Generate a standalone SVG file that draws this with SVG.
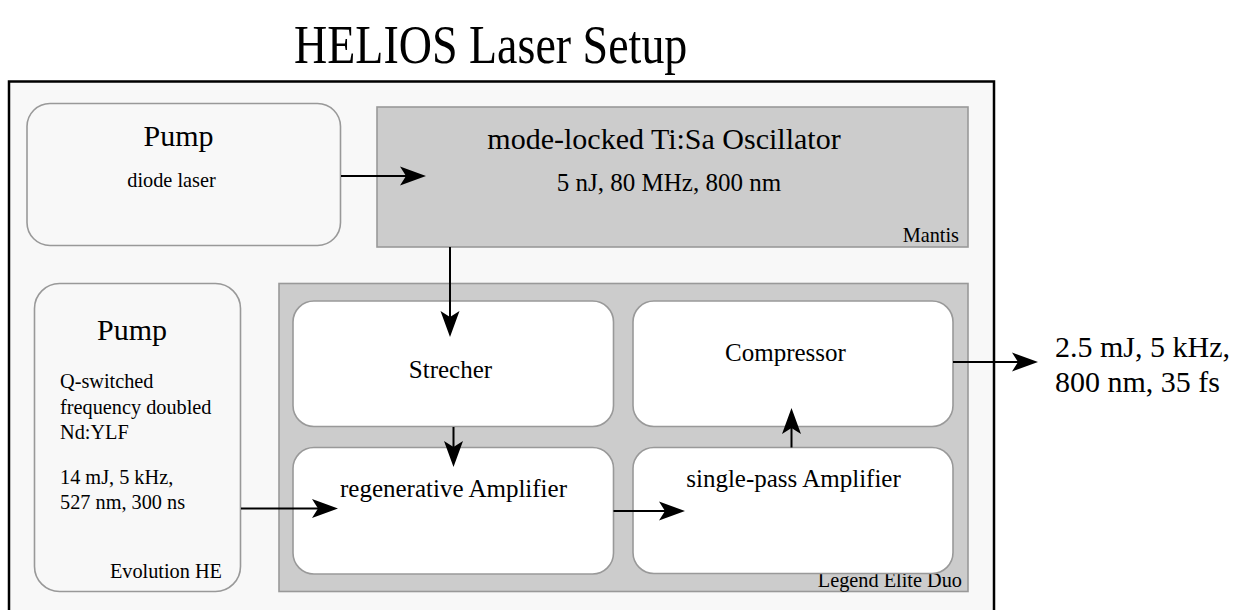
<svg xmlns="http://www.w3.org/2000/svg" width="1238" height="610" viewBox="0 0 1238 610">
  <style>
    .t { font-family: "Liberation Serif", "Times New Roman", serif; fill: #000; }
    .h46 { font-family: "Liberation Serif", "Times New Roman", serif; font-size: 46px; }
    .h30 { font-family: "Liberation Serif", "Times New Roman", serif; font-size: 30px; }
    .h25 { font-family: "Liberation Serif", "Times New Roman", serif; font-size: 25px; }
    .s20 { font-family: "Liberation Serif", "Times New Roman", serif; font-size: 20.3px; }
    .mid { text-anchor: middle; }
    .end { text-anchor: end; }
    .grey { fill: #cccccc; stroke: #999999; stroke-width: 1.6; }
    .pale { fill: #f8f8f8; stroke: #999999; stroke-width: 1.6; }
    .white { fill: #ffffff; stroke: #999999; stroke-width: 1.6; }
    .conn { stroke: #000; stroke-width: 2; fill: none; marker-end: url(#arrow); }
  </style>
  <defs>
    <marker id="arrow" markerUnits="userSpaceOnUse" markerWidth="30" markerHeight="24" refX="22" refY="10" orient="auto" overflow="visible">
      <path d="M0,0.5 L26,10 L0,19.5 L6,10 Z" fill="#000"/>
    </marker>
  </defs>

  <rect width="1238" height="610" fill="#ffffff"/>

  <g font-family="'Liberation Serif', 'Times New Roman', serif">
  <!-- heading, drawn slightly tall -->
  <text id="title" class="t h46" transform="translate(294,63) scale(1,1.18)" x="0" y="0">HELIOS Laser Setup</text>

  <!-- frame around the whole setup -->
  <rect id="frame" x="9" y="81.5" width="985" height="540" fill="#f8f8f8" stroke="#000" stroke-width="2.5"/>

  <g id="pump-diode">
    <rect class="pale" x="27" y="103.5" width="313.5" height="142" rx="23"/>
    <text class="t h30 mid" x="178.5" y="146">Pump</text>
    <text class="t s20 mid" x="171.5" y="187">diode laser</text>
  </g>

  <g id="oscillator">
    <rect class="grey" x="377" y="107" width="591" height="140"/>
    <text class="t h30 mid" x="664" y="149">mode-locked Ti:Sa Oscillator</text>
    <text class="t h25 mid" x="669" y="191">5 nJ, 80 MHz, 800 nm</text>
    <text class="t s20 end" x="959" y="242">Mantis</text>
  </g>

  <g id="pump-evolution">
    <rect class="pale" x="34.5" y="283.5" width="206" height="308" rx="25"/>
    <text class="t h30 mid" x="132" y="340">Pump</text>
    <text class="t s20" x="60" y="388">Q-switched</text>
    <text class="t s20" x="60" y="413.5">frequency doubled</text>
    <text class="t s20" x="60" y="439">Nd:YLF</text>
    <text class="t s20" x="60" y="483.5">14 mJ, 5 kHz,</text>
    <text class="t s20" x="60" y="508.5">527 nm, 300 ns</text>
    <text class="t s20 end" x="222" y="578">Evolution HE</text>
  </g>

  <g id="amplifier">
    <rect class="grey" x="279" y="283.5" width="689" height="308"/>
    <text class="t s20 end" x="962" y="587">Legend Elite Duo</text>
  </g>

  <g id="strecher">
    <rect class="white" x="293" y="301" width="320.5" height="125.5" rx="21"/>
    <text class="t h25 mid" x="450.5" y="377.5">Strecher</text>
  </g>

  <g id="regenerative">
    <rect class="white" x="293" y="447.5" width="320.5" height="126.5" rx="21"/>
    <text class="t h25 mid" x="453.5" y="497">regenerative Amplifier</text>
  </g>

  <g id="compressor">
    <rect class="white" x="633" y="301" width="320" height="125.5" rx="21"/>
    <text class="t h25 mid" x="785.5" y="361">Compressor</text>
  </g>

  <g id="single-pass">
    <rect class="white" x="633" y="447.5" width="320" height="126" rx="21"/>
    <text class="t h25 mid" x="793.5" y="487">single-pass Amplifier</text>
  </g>

  <g id="output">
    <text class="t h30" x="1055" y="357">2.5 mJ, 5 kHz,</text>
    <text class="t h30" x="1055" y="392">800 nm, 35 fs</text>
  </g>
  </g>

  <g id="connectors">
    <line class="conn" x1="341" y1="176" x2="422" y2="176"/>
    <line class="conn" x1="450" y1="247" x2="450" y2="333"/>
    <line class="conn" x1="453.5" y1="427" x2="453.5" y2="463"/>
    <line class="conn" x1="241" y1="508.5" x2="334" y2="508.5"/>
    <line class="conn" x1="613.5" y1="511" x2="681" y2="511"/>
    <line class="conn" x1="791.5" y1="447.5" x2="791.5" y2="412"/>
    <line class="conn" x1="953" y1="362" x2="1034" y2="362"/>
  </g>
</svg>
